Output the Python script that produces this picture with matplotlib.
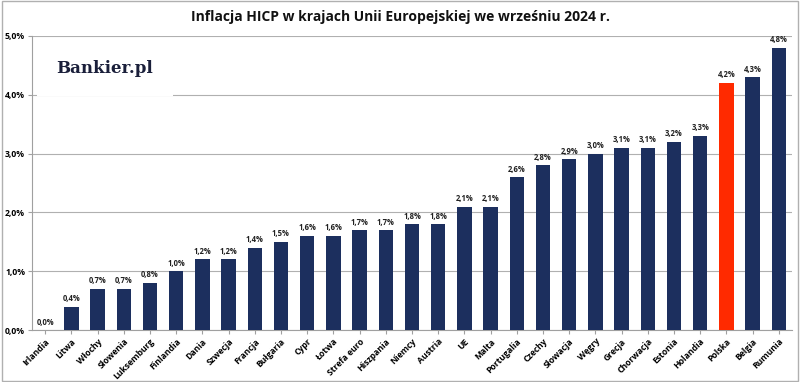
import matplotlib.pyplot as plt
from matplotlib.ticker import FuncFormatter

countries = ["Irlandia", "Litwa", "Włochy", "Słowenia", "Luksemburg", "Finlandia",
             "Dania", "Szwecja", "Francja", "Bułgaria", "Cypr", "Łotwa",
             "Strefa euro", "Hiszpania", "Niemcy", "Austria", "UE", "Malta",
             "Portugalia", "Czechy", "Słowacja", "Węgry", "Grecja", "Chorwacja",
             "Estonia", "Holandia", "Polska", "Belgia", "Rumunia"]
inflation = [0.0, 0.4, 0.7, 0.7, 0.8, 1.0, 1.2, 1.2, 1.4, 1.5, 1.6, 1.6, 1.7, 1.7,
             1.8, 1.8, 2.1, 2.1, 2.6, 2.8, 2.9, 3.0, 3.1, 3.1, 3.2, 3.3, 4.2, 4.3, 4.8]
highlight = "Polska"

plt.rcParams["font.family"] = ["Open Sans", "DejaVu Sans"]

navy = "#1c2f5e"
red = "#ff2a00"
colors = [red if c == highlight else navy for c in countries]

fig = plt.figure(figsize=(8, 3.82), dpi=100)
ax = fig.add_axes([0.04, 0.136, 0.95, 0.77])

x = range(len(countries))
ax.bar(x, inflation, width=0.55, color=colors, zorder=3)

for i, v in zip(x, inflation):
    ax.text(i, v + 0.06, f"{v:.1f}%".replace(".", ","), ha="center", va="bottom",
            fontsize=5.5, fontweight="bold", color="#222222")

ax.set_xlim(-0.5, 28.5)
ax.set_ylim(0, 5)
ax.set_yticks([0, 1, 2, 3, 4, 5])
ax.yaxis.set_major_formatter(FuncFormatter(lambda v, p: f"{v:.1f}%".replace(".", ",")))
ax.grid(axis="y", color="#b0b0b0", linewidth=0.8, zorder=0)

ax.set_xticks(list(x))
ax.set_xticklabels(countries, rotation=45, ha="right", rotation_mode="anchor",
                   fontsize=6.2, fontweight="bold")
for lbl in ax.get_yticklabels():
    lbl.set_fontsize(6.2)
    lbl.set_fontweight("bold")
ax.tick_params(axis="both", length=3, color="#a0a0a0", pad=2)

for s in ["top", "right"]:
    ax.spines[s].set_visible(False)
ax.spines["left"].set_color("#a0a0a0")
ax.spines["bottom"].set_color("#a0a0a0")

fig.text(0.5, 0.955, "Inflacja HICP w krajach Unii Europejskiej we wrześniu 2024 r.",
         ha="center", va="center", fontsize=10, fontweight="bold", color="#111111")

ax.text(0.032, 0.89, "Bankier.pl", transform=ax.transAxes, fontsize=12,
        fontweight="bold", family="DejaVu Serif", color="#1a1f3a", va="center",
        zorder=4, bbox=dict(facecolor="white", edgecolor="none", pad=14))

fig.patches.append(plt.Rectangle((0.002, 0.003), 0.996, 0.994, transform=fig.transFigure,
                                 fill=False, edgecolor="#b0b0b0", linewidth=1))

plt.savefig("out.png", dpi=100)
